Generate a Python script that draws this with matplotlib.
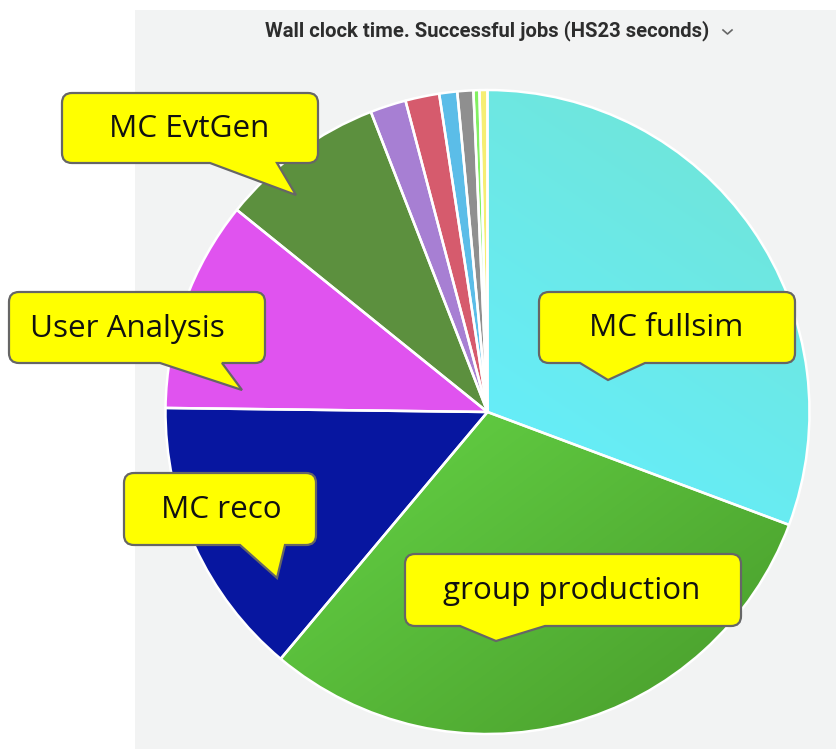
import matplotlib
matplotlib.use("Agg")
import numpy as np
import matplotlib.pyplot as plt
from matplotlib.path import Path
from matplotlib.patches import PathPatch, Rectangle, Wedge
from matplotlib.colors import to_rgb

# ---- data (percent of wall clock time) ----
categories = ["MC fullsim", "group production", "MC reco", "User Analysis", "MC EvtGen",
              "other 1", "other 2", "other 3", "other 4", "other 5", "other 6"]
values = [30.7, 30.4, 14.1, 10.6, 8.3, 1.8, 1.7, 0.9, 0.8, 0.3, 0.4]
colors = ["#69e9ea", "#56bb3a", "#0716a0", "#e053ef", "#5c903e",
          "#a77fd3", "#d65b6d", "#5bbde8", "#8f8f8f", "#82f062", "#f6ee72"]
# two-tone shading (start colour, end colour) for the big slices
gradients = {0: ("#6fe6dd", "#66edf8"), 1: ("#5fc840", "#4ea630")}
callout_labels = ["MC fullsim", "group production", "MC reco", "User Analysis", "MC EvtGen"]
title = "Wall clock time. Successful jobs (HS23 seconds)"

W, H = 836, 749
fig = plt.figure(figsize=(W / 100, H / 100), dpi=100)
ax = fig.add_axes([0, 0, 1, 1])

def Y(y):
    return H - y

# panel background
ax.add_patch(Rectangle((135, 0), W - 135, Y(10), facecolor="#f2f3f3", edgecolor="none", zorder=0))

cx, cy, R = 487.5, Y(412), 322
wedges, _ = ax.pie(values, colors=colors, startangle=90, counterclock=False,
                   center=(cx, cy), radius=R,
                   wedgeprops=dict(edgecolor="none", linewidth=0))

ax.set_xlim(0, W)
ax.set_ylim(0, H)
ax.set_aspect("equal")
ax.axis("off")

# gradient fills
gx = np.linspace(cx - R, cx + R, 300)
gy = np.linspace(cy - R, cy + R, 300)
GX, GY = np.meshgrid(gx, gy)
ANG = np.rad2deg(np.arctan2(GY - cy, GX - cx))
RAD = np.hypot(GX - cx, GY - cy)
dirs = {0: (-0.55, -0.83), 1: (0.6, -0.8)}
for i, (c0, c1) in gradients.items():
    w = wedges[i]
    a1, a2 = w.theta1, w.theta2
    ang = (ANG - a1) % 360
    mask = (ang <= (a2 - a1) % 360) & (RAD <= R)
    dx, dy = dirs[i]
    p = (GX - cx) * dx + (GY - cy) * dy
    pmin, pmax = p[mask].min(), p[mask].max()
    t = np.clip((p - pmin) / (pmax - pmin), 0, 1)
    a, b = np.array(to_rgb(c0)), np.array(to_rgb(c1))
    img = a[None, None, :] * (1 - t[..., None]) + b[None, None, :] * t[..., None]
    im = ax.imshow(img, extent=(cx - R, cx + R, cy - R, cy + R), origin="lower",
                   zorder=1.5, interpolation="bilinear")
    im.set_clip_path(w)

# thin white separators on top
for w in wedges:
    ax.add_patch(Wedge(w.center, w.r, w.theta1, w.theta2, facecolor="none",
                       edgecolor="white", linewidth=1.8, joinstyle="round", zorder=2))
ax.set_xlim(0, W)
ax.set_ylim(0, H)

# title
ax.text(487, Y(31), title, ha="center", va="center", fontsize=14.6,
        fontfamily="Roboto", fontweight="bold", color="#2d2d2d")
ax.plot([723, 727.5, 732], [Y(30), Y(34), Y(30)], color="#666666", lw=1.2)

def callout(x0, y0, x1, y1, pa, pb, tip, text, tx, r=10):
    pts = [
        (x0 + r, y0), (x1 - r, y0), (x1, y0), (x1, y0 + r),
        (x1, y1 - r), (x1, y1), (x1 - r, y1),
        (pb, y1), tip, (pa, y1),
        (x0 + r, y1), (x0, y1), (x0, y1 - r),
        (x0, y0 + r), (x0, y0), (x0 + r, y0), (x0 + r, y0)]
    codes = [Path.MOVETO, Path.LINETO, Path.CURVE3, Path.CURVE3,
             Path.LINETO, Path.CURVE3, Path.CURVE3,
             Path.LINETO, Path.LINETO, Path.LINETO,
             Path.LINETO, Path.CURVE3, Path.CURVE3,
             Path.LINETO, Path.CURVE3, Path.CURVE3, Path.CLOSEPOLY]
    verts = [(x, Y(y)) for x, y in pts]
    ax.add_patch(PathPatch(Path(verts, codes), facecolor="#ffff00",
                           edgecolor="#666666", linewidth=1.6, zorder=5))
    ax.text(tx, Y((y0 + y1) / 2 + 1), text, ha="center", va="center",
            fontsize=22.6, fontfamily="Open Sans", color="#111111", zorder=6)

callout(539, 292, 795, 363, 580, 645, (608, 380), callout_labels[0], 666)
callout(405, 554, 741, 626, 460, 545, (496, 641), callout_labels[1], 572)
callout(124, 473, 316, 545, 240, 285, (277, 578), callout_labels[2], 221)
callout(9, 292, 265, 363, 160, 222, (242, 390), callout_labels[3], 127)
callout(62, 93, 318, 163, 210, 277, (296, 195), callout_labels[4], 189)

fig.savefig("out.png", dpi=100, facecolor="white")
